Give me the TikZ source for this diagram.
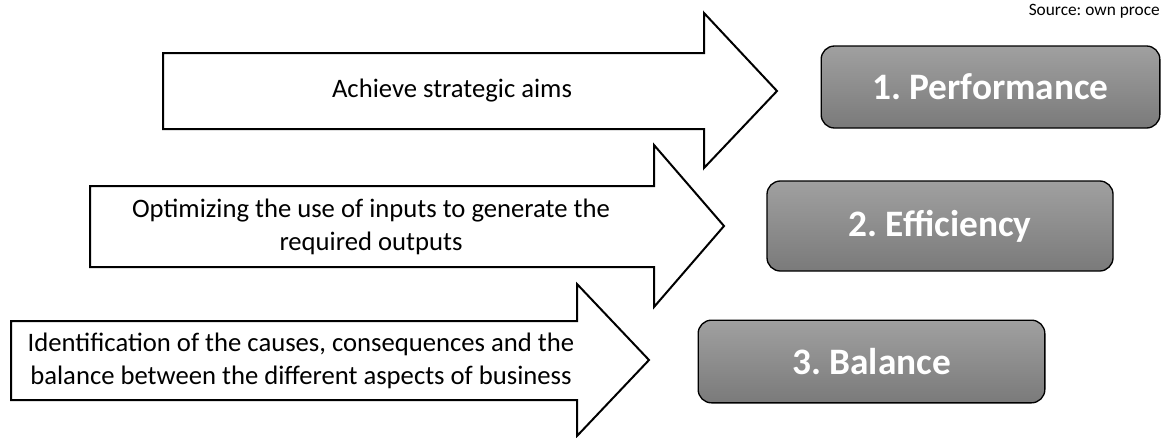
\documentclass[tikz,border=0pt]{standalone}
\usepackage{fontspec}
\setmainfont{Carlito}
\usetikzlibrary{positioning}
\frenchspacing
\definecolor{boxtop}{RGB}{160,160,160}
\definecolor{boxbottom}{RGB}{122,122,122}
\tikzset{
    aimarrow/.style={draw=black, line width=1.5pt, fill=white, line join=miter},
    aimtext/.style={align=center, inner sep=0pt, font=\fontsize{20}{24.4}\selectfont},
    goalbox/.style={draw=black, line width=1pt, rounded corners=10pt,
        top color=boxtop, bottom color=boxbottom, text=white,
        font=\fontsize{28}{34}\selectfont\bfseries},
}

\begin{document}
\begin{tikzpicture}[x=0.75pt, y=-0.75pt]
    \useasboundingbox (0,0) rectangle (1162,437);
    \draw[aimarrow] (163,53) -- (704,53) -- (704,13) -- (777,91) -- (704,168) -- (704,129) -- (163,129) -- cycle;
    \draw[aimarrow] (90,186) -- (654,186) -- (654,145) -- (724,226) -- (654,307) -- (654,267) -- (90,267) -- cycle;
    \draw[aimarrow] (11,321) -- (577,321) -- (577,284) -- (649,360) -- (577,436) -- (577,400) -- (11,400) -- cycle;
    \node[aimtext] (aim1) at (452,91) {Achieve strategic aims};
    \node[aimtext] (aim2) at (371,227) {Optimizing the use of inputs to generate the\\required outputs};
    \node[aimtext] (aim3) at (301,361) {Identification of the causes, consequences and the\\balance between the different aspects of business};
    \node[goalbox, minimum width=254pt, minimum height=61.5pt] (perf) at (990.5,87) {1. Performance};
    \node[goalbox, minimum width=259.5pt, minimum height=67.5pt] (effic) at (940,226) {2. Efficiency};
    \node[goalbox, minimum width=260pt, minimum height=62pt] (bal) at (871.5,361.5) {3. Balance};
    \node[anchor=base east, inner sep=0pt, font=\fontsize{13}{16}\selectfont] (src) at (1160,15) {Source: own proce};
\end{tikzpicture}
\end{document}
